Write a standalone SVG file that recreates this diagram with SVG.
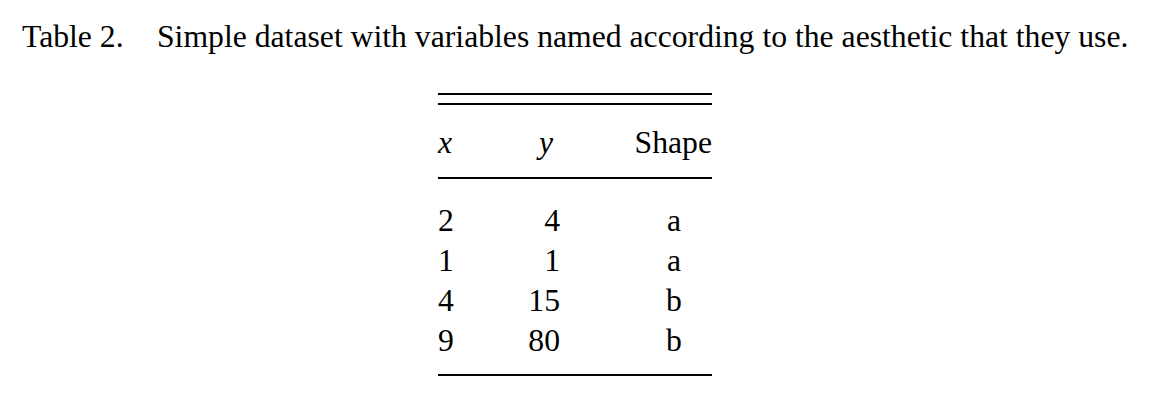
<svg xmlns="http://www.w3.org/2000/svg" width="1152" height="410" viewBox="0 0 1152 410">
<style>
text{font-family:"Liberation Serif","Times New Roman",serif;font-size:31.7px;fill:#000}
.it{font-style:italic}
.r{text-anchor:end}
.c{text-anchor:middle}
line{stroke:#000;stroke-width:2}
</style>
<rect width="1152" height="410" fill="#fff"/>
<g id="caption">
<text x="22" y="47">Table 2.</text>
<text x="157" y="47">Simple dataset with variables named according to the aesthetic that they use.</text>
</g>
<g id="rules">
<line x1="438" y1="94" x2="712" y2="94"/>
<line x1="438" y1="104" x2="712" y2="104"/>
<line x1="438" y1="178" x2="712" y2="178"/>
<line x1="438" y1="375" x2="712" y2="375"/>
</g>
<g id="header">
<text x="438" y="153" class="it">x</text>
<text x="546" y="153" class="it c">y</text>
<text x="712" y="153" class="r">Shape</text>
</g>
<g id="row1"><text x="438" y="231">2</text><text x="560" y="231" class="r">4</text><text x="674" y="231" class="c">a</text></g>
<g id="row2"><text x="438" y="271">1</text><text x="560" y="271" class="r">1</text><text x="674" y="271" class="c">a</text></g>
<g id="row3"><text x="438" y="311">4</text><text x="560" y="311" class="r">15</text><text x="674" y="311" class="c">b</text></g>
<g id="row4"><text x="438" y="351">9</text><text x="560" y="351" class="r">80</text><text x="674" y="351" class="c">b</text></g>
</svg>
